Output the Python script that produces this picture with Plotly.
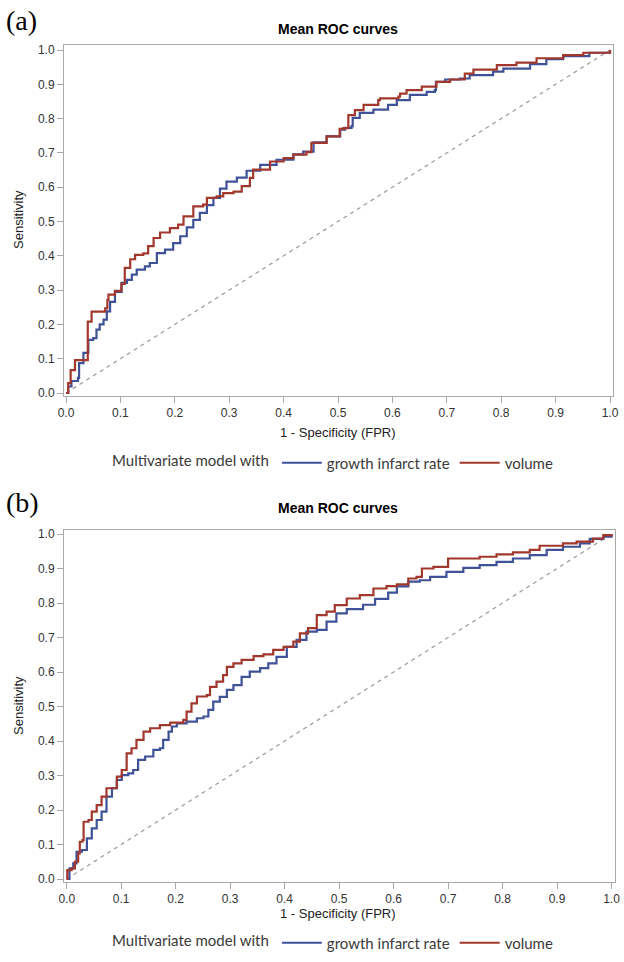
import plotly.graph_objects as go

# ---------------- data ----------------
ticks = [0.0, 0.1, 0.2, 0.3, 0.4, 0.5, 0.6, 0.7, 0.8, 0.9, 1.0]
tick_text = ["0.0", "0.1", "0.2", "0.3", "0.4", "0.5", "0.6", "0.7", "0.8", "0.9", "1.0"]

series_names = ["growth infarct rate", "volume"]
panel_labels = ["(a)", "(b)"]
chart_title = "Mean ROC curves"
x_title = "1 - Specificity (FPR)"
y_title = "Sensitivity"
legend_title = "Multivariate model with"

# Panel (a) - growth infarct rate
fpr_a_gir = [0, 0.004, 0.01, 0.022, 0.024, 0.032, 0.041, 0.05, 0.056, 0.062, 0.069, 0.075, 0.081, 0.09,
             0.102, 0.112, 0.121, 0.13, 0.145, 0.154, 0.167, 0.182, 0.197, 0.21, 0.222, 0.234, 0.246,
             0.259, 0.271, 0.283, 0.295, 0.314, 0.332, 0.357, 0.387, 0.418, 0.436, 0.455, 0.479, 0.504,
             0.513, 0.525, 0.527, 0.54, 0.565, 0.592, 0.608, 0.632, 0.663, 0.678, 0.68, 0.697, 0.724,
             0.742, 0.785, 0.804, 0.853, 0.883, 0.914, 0.962, 1.0]
tpr_a_gir = [0, 0.019, 0.035, 0.044, 0.087, 0.117, 0.155, 0.16, 0.185, 0.2, 0.214, 0.238, 0.266, 0.295,
             0.321, 0.33, 0.345, 0.36, 0.369, 0.379, 0.408, 0.418, 0.437, 0.457, 0.483, 0.505, 0.525,
             0.548, 0.569, 0.596, 0.616, 0.628, 0.648, 0.665, 0.68, 0.696, 0.704, 0.731, 0.748, 0.768,
             0.773, 0.778, 0.802, 0.817, 0.826, 0.84, 0.854, 0.869, 0.878, 0.883, 0.907, 0.914, 0.917,
             0.927, 0.937, 0.946, 0.959, 0.973, 0.982, 0.992, 1.0]

# Panel (a) - volume
fpr_a_vol = [0, 0.004, 0.0085, 0.0165, 0.038, 0.040, 0.047, 0.072, 0.076, 0.078, 0.09, 0.102, 0.108,
             0.118, 0.127, 0.142, 0.151, 0.161, 0.173, 0.191, 0.206, 0.216, 0.234, 0.252, 0.259, 0.277,
             0.289, 0.308, 0.323, 0.338, 0.344, 0.375, 0.40, 0.418, 0.442, 0.451, 0.479, 0.503, 0.51,
             0.519, 0.531, 0.547, 0.574, 0.577, 0.611, 0.614, 0.626, 0.654, 0.681, 0.706, 0.733, 0.749,
             0.792, 0.828, 0.865, 0.914, 0.951, 1.0]
tpr_a_vol = [0, 0.029, 0.067, 0.096, 0.096, 0.208, 0.237, 0.247, 0.271, 0.287, 0.298, 0.318, 0.365,
             0.39, 0.403, 0.407, 0.428, 0.452, 0.468, 0.481, 0.491, 0.515, 0.544, 0.549, 0.569, 0.573,
             0.583, 0.587, 0.603, 0.627, 0.651, 0.675, 0.685, 0.695, 0.702, 0.729, 0.748, 0.77, 0.772,
             0.81, 0.825, 0.84, 0.854, 0.859, 0.864, 0.873, 0.883, 0.893, 0.907, 0.914, 0.931, 0.943,
             0.956, 0.963, 0.976, 0.985, 0.992, 1.0]

# Panel (b) - growth infarct rate
fpr_b_gir = [0, 0.005, 0.012, 0.018, 0.028, 0.037, 0.046, 0.055, 0.064, 0.073, 0.083, 0.092, 0.101,
             0.113, 0.122, 0.131, 0.144, 0.159, 0.171, 0.177, 0.187, 0.193, 0.202, 0.22, 0.239, 0.251,
             0.26, 0.269, 0.281, 0.294, 0.306, 0.321, 0.336, 0.355, 0.37, 0.385, 0.404, 0.422, 0.44,
             0.459, 0.477, 0.495, 0.514, 0.544, 0.566, 0.59, 0.606, 0.627, 0.648, 0.667, 0.697, 0.728,
             0.758, 0.789, 0.819, 0.85, 0.881, 0.911, 0.942, 0.96, 0.985, 1.0]
tpr_b_gir = [0, 0.031, 0.045, 0.079, 0.084, 0.118, 0.147, 0.171, 0.195, 0.239, 0.263, 0.287, 0.301,
             0.306, 0.316, 0.345, 0.355, 0.374, 0.379, 0.403, 0.427, 0.442, 0.451, 0.456, 0.466, 0.471,
             0.49, 0.514, 0.528, 0.548, 0.562, 0.586, 0.601, 0.611, 0.625, 0.644, 0.673, 0.693, 0.717,
             0.722, 0.746, 0.77, 0.782, 0.795, 0.812, 0.83, 0.848, 0.862, 0.866, 0.876, 0.89, 0.902,
             0.91, 0.919, 0.929, 0.939, 0.954, 0.963, 0.973, 0.986, 0.992, 1.0]

# Panel (b) - volume
fpr_b_vol = [0, 0.001, 0.009, 0.015, 0.021, 0.024, 0.029, 0.031, 0.04, 0.046, 0.055, 0.064, 0.073,
             0.086, 0.092, 0.101, 0.11, 0.119, 0.128, 0.141, 0.153, 0.171, 0.19, 0.214, 0.22, 0.229,
             0.239, 0.257, 0.263, 0.275, 0.287, 0.294, 0.306, 0.321, 0.343, 0.361, 0.379, 0.398, 0.416,
             0.428, 0.443, 0.459, 0.477, 0.492, 0.514, 0.538, 0.563, 0.587, 0.606, 0.627, 0.642, 0.652,
             0.673, 0.7, 0.728, 0.758, 0.789, 0.819, 0.85, 0.868, 0.911, 0.936, 0.966, 0.985, 1.0]
tpr_b_vol = [0, 0.026, 0.031, 0.05, 0.074, 0.108, 0.113, 0.166, 0.171, 0.195, 0.214, 0.239, 0.263,
             0.263, 0.297, 0.316, 0.364, 0.379, 0.403, 0.427, 0.437, 0.446, 0.453, 0.461, 0.485, 0.509,
             0.529, 0.533, 0.557, 0.572, 0.591, 0.615, 0.625, 0.635, 0.646, 0.651, 0.664, 0.673, 0.688,
             0.712, 0.727, 0.765, 0.775, 0.794, 0.813, 0.823, 0.842, 0.849, 0.854, 0.871, 0.876, 0.9,
             0.905, 0.929, 0.929, 0.934, 0.941, 0.947, 0.954, 0.966, 0.973, 0.978, 0.987, 0.997, 1.0]

diag = [0, 1]

# ---------------- figure ----------------
W, H = 624, 962
BLUE = "#3f5197"
RED = "#a2372d"
AXIS = "#a9a9a9"
SANS = "Liberation Sans, Arial, sans-serif"
LEG_FONT = "Lato, Open Sans, sans-serif"


def fx(p):
    return p / W


def fy(p):
    return 1 - p / H


panels = [
    dict(x="x", y="y", legend="legend",
         data=[(fpr_a_gir, tpr_a_gir), (fpr_a_vol, tpr_a_vol)]),
    dict(x="x2", y="y2", legend="legend2",
         data=[(fpr_b_gir, tpr_b_gir), (fpr_b_vol, tpr_b_vol)]),
]

fig = go.Figure()
for p in panels:
    fig.add_trace(go.Scatter(x=diag, y=diag, mode="lines", xaxis=p["x"], yaxis=p["y"],
                             line=dict(color="#9a9a9a", width=1.2, dash="4px,4px"),
                             showlegend=False, hoverinfo="skip"))
    for (xs, ys), name, col in zip(p["data"], series_names, [BLUE, RED]):
        fig.add_trace(go.Scatter(x=xs, y=ys, mode="lines", name=name, xaxis=p["x"], yaxis=p["y"],
                                 line=dict(color=col, width=2.2, shape="hv"),
                                 legend=p["legend"]))

axis_common = dict(tickvals=ticks, ticktext=tick_text, showline=True, linecolor=AXIS, linewidth=1,
                   mirror=True, ticks="outside", ticklen=6, tickcolor=AXIS, tickwidth=1,
                   showgrid=False, zeroline=False, automargin=False,
                   tickfont=dict(family=SANS, size=12, color="#333333"))

legend_common = dict(orientation="h", x=fx(334), xanchor="center", yanchor="middle",
                     title=dict(text=legend_title, side="left",
                                font=dict(family=LEG_FONT, size=15, color="#3a3a3a")),
                     font=dict(family=LEG_FONT, size=15, color="#3a3a3a"),
                     bgcolor="rgba(0,0,0,0)", itemwidth=40)

fig.update_layout(
    width=W, height=H, margin=dict(l=0, r=0, t=0, b=0),
    paper_bgcolor="white", plot_bgcolor="white",
    xaxis=dict(domain=[fx(64), fx(613)], range=[-0.0037, 1.0055], anchor="y", **axis_common),
    yaxis=dict(domain=[fy(396), fy(45)], range=[-0.0087, 1.0146], anchor="x", **axis_common),
    xaxis2=dict(domain=[fx(64), fx(615)], range=[-0.005, 1.0064], anchor="y2", **axis_common),
    yaxis2=dict(domain=[fy(882), fy(530)], range=[-0.0087, 1.0116], anchor="x2", **axis_common),
    legend=dict(y=fy(463), **legend_common),
    legend2=dict(y=fy(943), **legend_common),
    showlegend=True,
)

ann = []
for lab, ylab, ytitle, ycenter, yxt in [(panel_labels[0], 21, 29, 220, 432),
                                         (panel_labels[1], 503, 508, 706, 913)]:
    ann.append(dict(text=lab, x=fx(4), y=fy(ylab), xref="paper", yref="paper", xanchor="left",
                    yanchor="middle", showarrow=False,
                    font=dict(family="Liberation Serif, Times New Roman, serif", size=28, color="black")))
    ann.append(dict(text="<b>" + chart_title + "</b>", x=fx(338), y=fy(ytitle), xref="paper", yref="paper",
                    xanchor="center", yanchor="middle", showarrow=False,
                    font=dict(family=SANS, size=14, color="black")))
    ann.append(dict(text=y_title, x=fx(18), y=fy(ycenter), xref="paper", yref="paper", textangle=-90,
                    xanchor="center", yanchor="middle", showarrow=False,
                    font=dict(family=SANS, size=13, color="#222222")))
    ann.append(dict(text=x_title, x=fx(338), y=fy(yxt), xref="paper", yref="paper",
                    xanchor="center", yanchor="middle", showarrow=False,
                    font=dict(family=SANS, size=13, color="#222222")))
fig.update_layout(annotations=ann)

fig.write_html("out.html")
